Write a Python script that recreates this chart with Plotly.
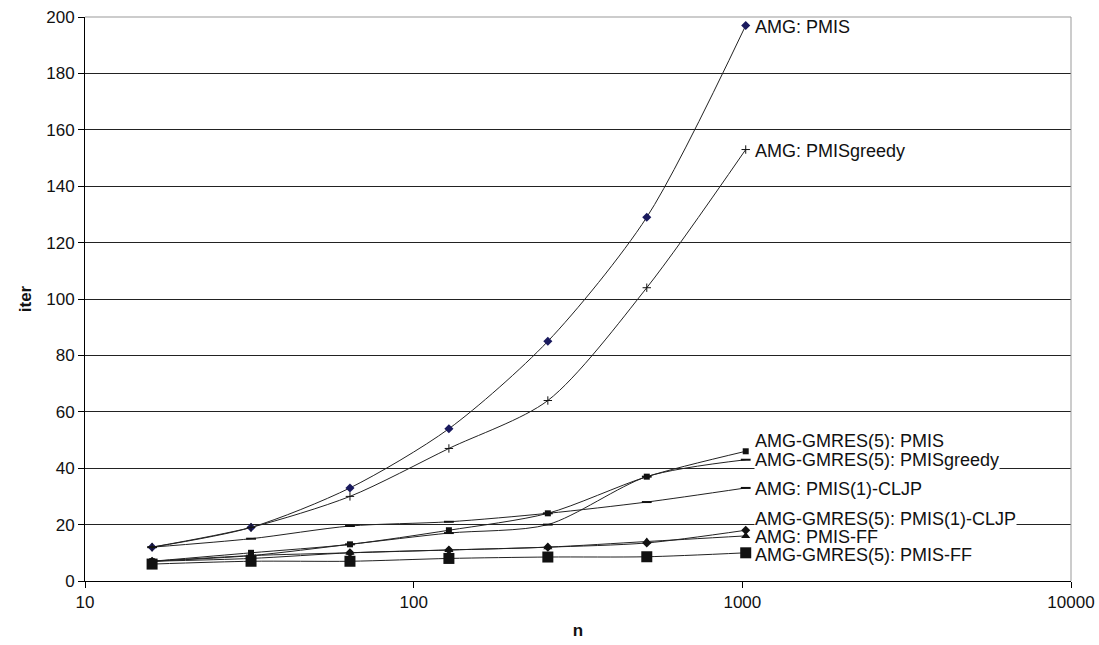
import numpy as np
import plotly.graph_objects as go

n = [16, 32, 64, 128, 256, 512, 1024]

names = [
    "AMG: PMIS",
    "AMG: PMISgreedy",
    "AMG-GMRES(5): PMIS",
    "AMG-GMRES(5): PMISgreedy",
    "AMG: PMIS(1)-CLJP",
    "AMG-GMRES(5): PMIS(1)-CLJP",
    "AMG: PMIS-FF",
    "AMG-GMRES(5): PMIS-FF",
]

amg_pmis = [12, 19, 33, 54, 85, 129, 197]
amg_pmisgreedy = [12, 19, 30, 47, 64, 104, 153]
gmres_pmis = [7, 10, 13, 18, 24, 37, 46]
gmres_pmisgreedy = [7, 9, 13, 17, 20, 37, 43]
amg_cljp = [12, 15, 19.5, 21, 24, 28, 33]
gmres_cljp = [7, 8, 10, 11, 12, 13.5, 18]
amg_ff = [7, 9, 10, 11, 12, 14, 16]
gmres_ff = [6, 7, 7, 8, 8.5, 8.6, 10]

series = [amg_pmis, amg_pmisgreedy, gmres_pmis, gmres_pmisgreedy,
          amg_cljp, gmres_cljp, amg_ff, gmres_ff]

label_y = [196.5, 152.5, 49.6, 42.9, 32.6, 22.0, 15.5, 9.2]
label_bg = [False, False, False, True, False, True, False, False]

y_ticks = list(range(0, 201, 20))
x_ticks = [10, 100, 1000, 10000]

markers = [
    dict(symbol="diamond", size=7, color="#1a1a5e"),
    dict(symbol="cross-thin", size=6, color="#111", line=dict(width=1, color="#111")),
    dict(symbol="square", size=6, color="#111"),
    dict(symbol="line-ew", size=7, color="#111", line=dict(width=2, color="#111")),
    dict(symbol="line-ew", size=7, color="#111", line=dict(width=2, color="#111")),
    dict(symbol="diamond", size=7, color="#111"),
    dict(symbol="triangle-up", size=8, color="#111"),
    dict(symbol="square", size=11, color="#111"),
]

fig = go.Figure()
for name, vals, mk in zip(names, series, markers):
    fig.add_trace(go.Scatter(
        x=n, y=vals, mode="lines+markers", name=name,
        line=dict(color="#222", width=1, shape="spline", smoothing=0.8),
        marker=mk, showlegend=False,
    ))

for name, ly, bg in zip(names, label_y, label_bg):
    fig.add_annotation(
        x=np.log10(n[-1]), y=ly, xref="x", yref="y", text=name,
        showarrow=False, xanchor="left", yanchor="middle", xshift=8,
        font=dict(family="Liberation Sans, Arial", size=18, color="#111"),
        bgcolor="white" if bg else "rgba(0,0,0,0)", borderpad=0,
    )

fig.update_layout(
    width=1099, height=645,
    margin=dict(l=85, r=28, t=17, b=64, autoexpand=False),
    paper_bgcolor="white", plot_bgcolor="white",
    font=dict(family="Liberation Sans, Arial", size=17, color="#111"),
    xaxis=dict(
        type="log", range=[1, 4], tickvals=x_ticks, ticktext=[str(v) for v in x_ticks],
        showgrid=False, showline=True, linecolor="black", linewidth=1,
        ticks="outside", ticklen=6, tickcolor="black", automargin=False,
        ticklabeloverflow="allow",
        title=dict(text="<b>n</b>", font=dict(size=17), standoff=12),
        zeroline=False,
    ),
    yaxis=dict(
        range=[0, 200], tickvals=y_ticks, showgrid=True, gridcolor="#222", gridwidth=1,
        showline=True, linecolor="black", linewidth=1, automargin=False,
        ticks="outside", ticklen=6, tickcolor="black", ticklabeloverflow="allow",
        title=dict(text="<b>iter</b>", font=dict(size=17), standoff=10),
        zeroline=False,
    ),
)

fig.add_shape(type="line", xref="paper", yref="paper", x0=1, x1=1, y0=0, y1=1,
              line=dict(color="#999", width=1))
fig.add_shape(type="line", xref="paper", yref="paper", x0=0, x1=1, y0=1, y1=1,
              line=dict(color="#999", width=1))

fig.write_html(
    "out.html",
    config={"displayModeBar": False},
    post_script="document.body.style.margin='0px';document.body.style.overflow='hidden';",
)
